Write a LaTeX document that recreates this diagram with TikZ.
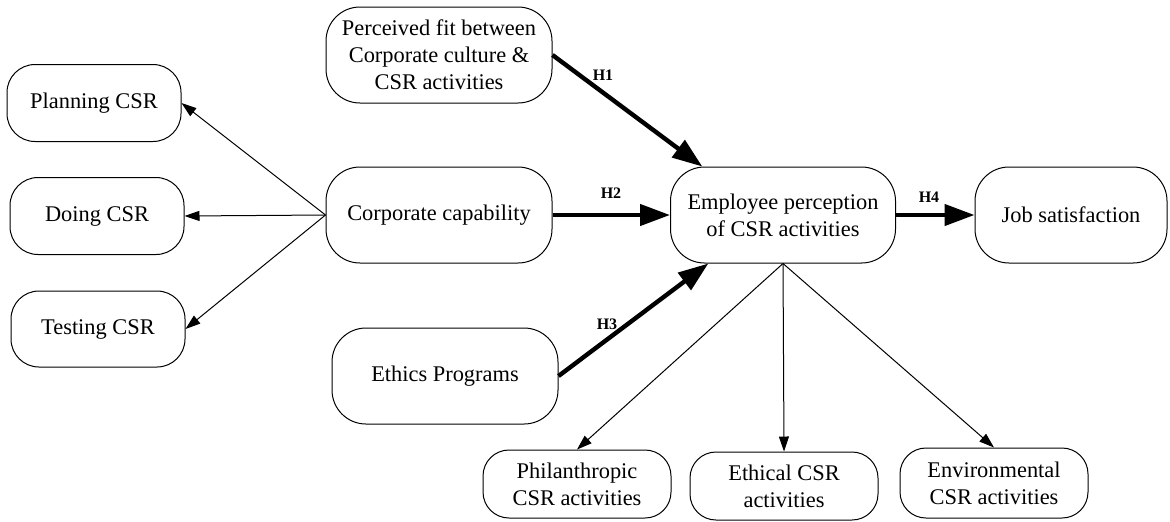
\documentclass[tikz,border=0pt]{standalone}
\usepackage{fontspec}
\setmainfont{LiberationSerif}[Extension=.ttf, UprightFont=*-Regular, BoldFont=*-Bold, ItalicFont=*-Italic, BoldItalicFont=*-BoldItalic]
\usetikzlibrary{arrows.meta}
\begin{document}
\begin{tikzpicture}[x=0.5pt,y=-0.5pt,
  box/.style={draw, line width=0.5pt, align=center, inner sep=0pt,
    font=\fontsize{11.2}{13.6}\selectfont},
  bigbox/.style={box, minimum width=113pt, minimum height=48pt, rounded corners=17pt},
  midbox/.style={box, minimum width=87pt, minimum height=38.5pt, rounded corners=14pt},
  lowbox/.style={box, minimum width=94pt, minimum height=34pt, rounded corners=13pt},
  thin/.style={line width=0.5pt, -{Triangle[length=7.5pt,width=5pt]}},
  thick/.style={line width=2.2pt, -{Triangle[length=15pt,width=10.5pt]}},
  hlab/.style={font=\fontsize{8}{9}\selectfont\bfseries, inner sep=0pt}]
\useasboundingbox (0,0) rectangle (1170,521);

\node[bigbox] (pf) at (439,55) {Perceived fit between\\Corporate culture \&\\CSR activities};
\node[bigbox] (cc) at (439,215) {Corporate capability};
\node[bigbox] (ep) at (445,376) {Ethics Programs};
\node[bigbox, minimum width=112.5pt] (emp) at (783,215) {Employee perception\\of CSR activities};
\node[bigbox, minimum width=96pt] (job) at (1071,215) {Job satisfaction};

\node[midbox] (plan) at (94,103) {Planning CSR};
\node[midbox] (doing) at (97,216) {Doing CSR};
\node[midbox, minimum height=38pt] (test) at (98,329) {Testing CSR};

\node[lowbox] (phil) at (577,484) {Philanthropic\\CSR activities};
\node[lowbox] (eth) at (784,486) {Ethical CSR\\activities};
\node[lowbox, minimum height=35pt] (env) at (994,483) {Environmental\\CSR activities};

\draw[thin] (cc.west) -- (plan.east);
\draw[thin] (cc.west) -- (doing.east);
\draw[thin] (cc.west) -- (test.east);

\draw[thick] (pf.east) -- (emp.149);
\draw[thick] (cc.east) -- (emp.west);
\draw[thick] (ep.east) -- (emp.213);
\draw[thick] (emp.east) -- (job.west);

\draw[thin] (emp.south) -- (phil.north);
\draw[thin] (emp.south) -- (eth.north);
\draw[thin] (emp.south) -- (env.north);

\node[hlab] (h1) at (603,75) {H1};
\node[hlab] (h2) at (611,193) {H2};
\node[hlab] (h3) at (607,324) {H3};
\node[hlab] (h4) at (929,197) {H4};
\end{tikzpicture}
\end{document}
